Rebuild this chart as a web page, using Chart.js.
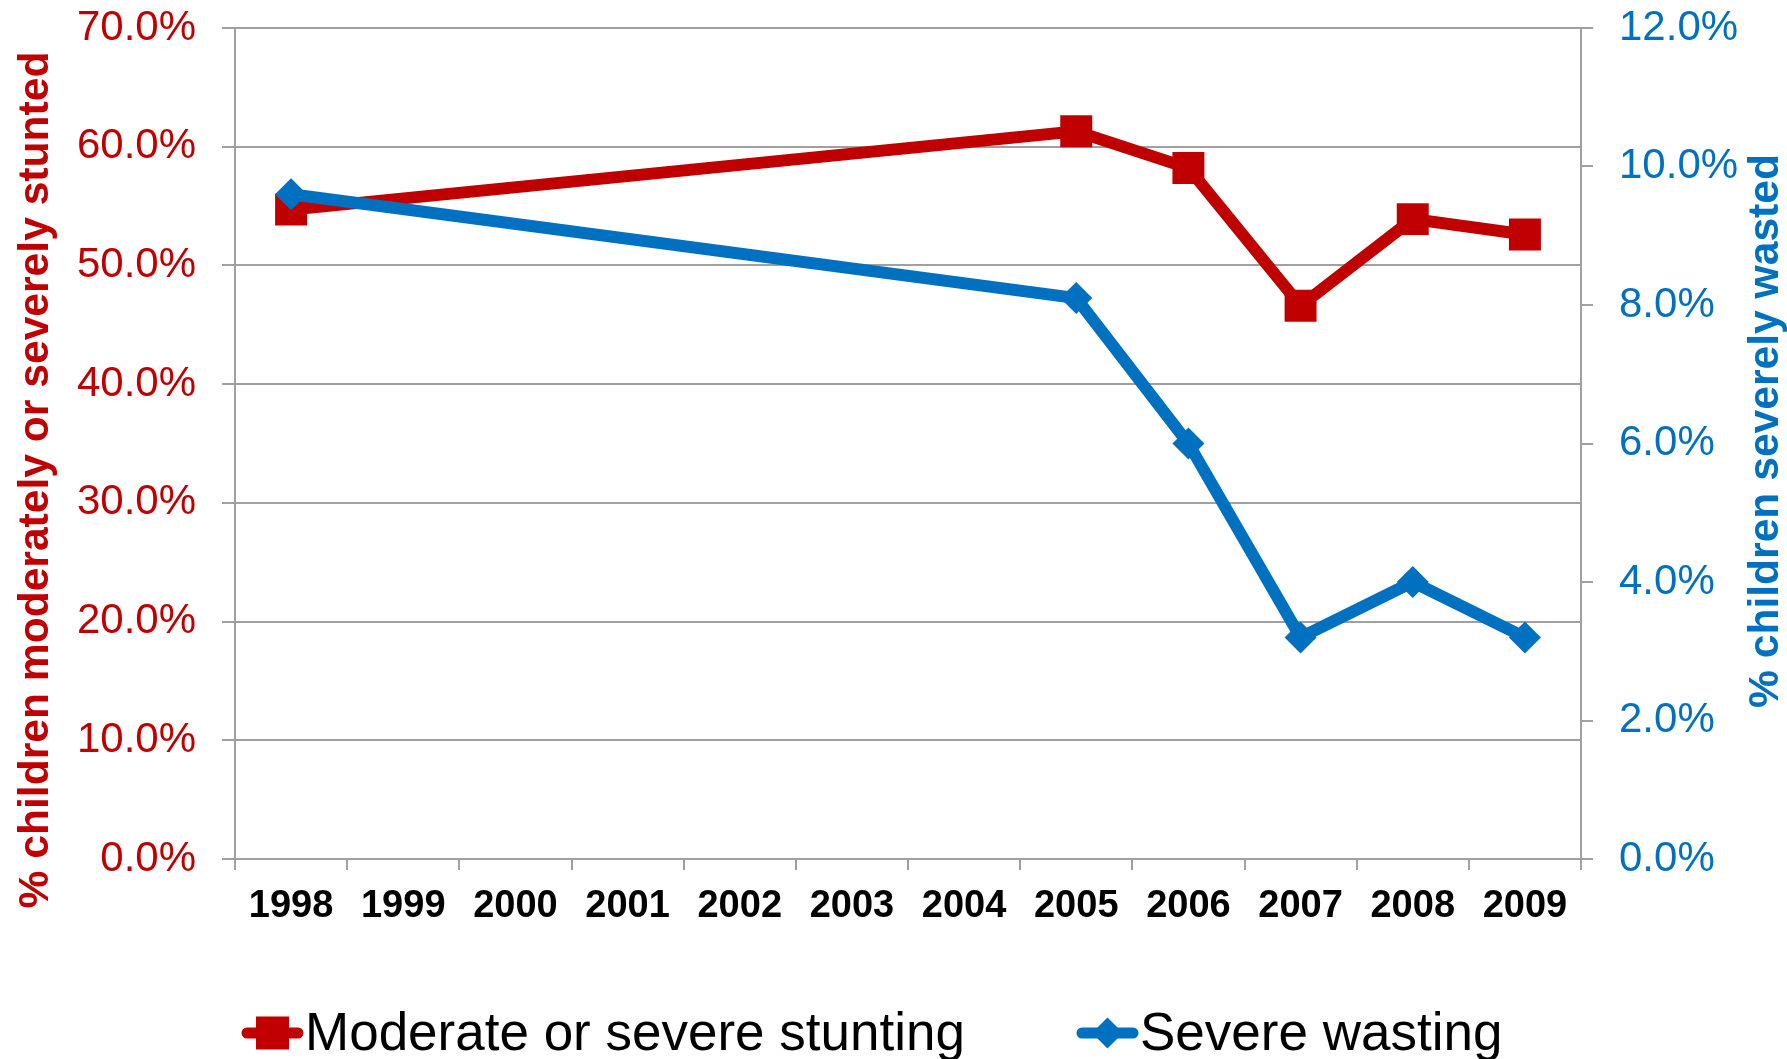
<!DOCTYPE html>
<html>
<head>
<meta charset="utf-8">
<title>Stunting and wasting</title>
<script src="https://cdn.jsdelivr.net/npm/chart.js@4.4.1/dist/chart.umd.min.js"></script>
<style>
  body { margin: 0; background: #fff; }
  canvas { display: block; }
</style>
</head>
<body>
<canvas id="myChart" width="1787" height="1059"></canvas>
<script>
// Datos
const years = ["1998", "1999", "2000", "2001", "2002", "2003", "2004", "2005", "2006", "2007", "2008", "2009"];
const stunting = [54.7, null, null, null, null, null, null, 61.3, 58.2, 46.6, 53.9, 52.6];
const wasting = [9.6, null, null, null, null, null, null, 8.1, 6.0, 3.2, 4.0, 3.2];
const stuntingLabel = "Moderate or severe stunting";
const wastingLabel = "Severe wasting";
const leftTitle = "% children moderately or severely stunted";
const rightTitle = "% children severely wasted";
const leftTicks = [0, 10, 20, 30, 40, 50, 60, 70];
const rightTicks = [0, 2, 4, 6, 8, 10, 12];

const red = "#C00000";
const blue = "#0070C0";
const grey = "#a0a0a0";
const font = '"Liberation Sans", Arial, sans-serif';

// titulos de ejes y leyenda
function drawRotated(ctx, text, x, y, color) {
  ctx.save();
  ctx.translate(x, y);
  ctx.rotate(-Math.PI / 2);
  ctx.fillStyle = color;
  ctx.fillText(text, 0, 0);
  ctx.restore();
}

function drawMarker(ctx, style, x, y, color) {
  ctx.fillStyle = color;
  ctx.beginPath();
  if (style === "rect") {
    ctx.rect(x - 16.5, y - 16.5, 33, 33);
  } else {
    ctx.moveTo(x - 15.5, y);
    ctx.lineTo(x, y - 15.5);
    ctx.lineTo(x + 15.5, y);
    ctx.lineTo(x, y + 15.5);
    ctx.closePath();
  }
  ctx.fill();
}

const extras = {
  id: "extras",
  afterDraw(chart) {
    const ctx = chart.ctx;
    ctx.save();
    ctx.font = "bold 42.6px " + font;
    ctx.textAlign = "center";
    ctx.textBaseline = "alphabetic";
    drawRotated(ctx, leftTitle, 48, 480, red);
    drawRotated(ctx, rightTitle, 1778, 431, blue);

    // leyenda
    const legendX = [242, 1077];
    const legendY = 1033;
    ctx.font = "53px " + font;
    ctx.textAlign = "left";
    chart.data.datasets.forEach((ds, i) => {
      let x = legendX[i];
      ctx.strokeStyle = ds.borderColor;
      ctx.lineWidth = 11;
      ctx.lineCap = "round";
      ctx.beginPath();
      ctx.moveTo(x + 5, legendY);
      ctx.lineTo(x + 56, legendY);
      ctx.stroke();
      drawMarker(ctx, ds.pointStyle, x + 30.5, legendY, ds.borderColor);
      ctx.fillStyle = "#000";
      ctx.fillText(ds.label, x + 63, 1050);
    });
    ctx.restore();
  }
};

// ancho fijo del eje y sin relleno extra arriba/abajo
function fixAxis(width) {
  return (scale) => {
    scale.width = width;
    scale.paddingTop = 0;
    scale.paddingBottom = 0;
  };
}

function renderGrafica() {
  const data = {
    labels: years,
    datasets: [
      {
        label: stuntingLabel,
        data: stunting,
        yAxisID: "y",
        borderColor: red,
        backgroundColor: red,
        borderWidth: 12,
        pointStyle: "rect",
        pointRadius: 22.6,
        pointBorderWidth: 0,
        spanGaps: true,
        order: 2
      },
      {
        label: wastingLabel,
        data: wasting,
        yAxisID: "y1",
        borderColor: blue,
        backgroundColor: blue,
        borderWidth: 12,
        pointStyle: "rectRot",
        pointRadius: 16,
        pointBorderWidth: 0,
        spanGaps: true,
        order: 1
      }
    ]
  };

  const config = {
    type: "line",
    data,
    options: {
      responsive: false,
      devicePixelRatio: 1,
      animation: false,
      layout: { padding: { top: 28, bottom: 100, left: 0, right: 0 } },
      plugins: {
        legend: { display: false },
        tooltip: { enabled: false }
      },
      scales: {
        x: {
          offset: true,
          afterFit: (scale) => { scale.height = 100; },
          grid: { offset: true, drawOnChartArea: false, drawTicks: true, tickLength: 11, color: grey, lineWidth: 2 },
          border: { color: grey, width: 2 },
          ticks: { color: "#000", font: { family: font, size: 38, weight: "bold" }, padding: 14, maxRotation: 0, autoSkip: false }
        },
        y: {
          position: "left",
          min: 0,
          max: 70,
          afterFit: fixAxis(235),
          afterBuildTicks: (scale) => { scale.ticks = leftTicks.map(v => ({ value: v })); },
          grid: { color: grey, lineWidth: 2, tickLength: 13 },
          border: { color: grey, width: 2 },
          ticks: {
            color: red,
            padding: 26,
            font: { family: font, size: 42 },
            callback: (v) => v.toFixed(1) + "%"
          }
        },
        y1: {
          position: "right",
          min: 0,
          max: 12,
          afterFit: fixAxis(206),
          afterBuildTicks: (scale) => { scale.ticks = rightTicks.map(v => ({ value: v })); },
          grid: { drawOnChartArea: false, color: grey, lineWidth: 2, tickLength: 12 },
          border: { color: grey, width: 2 },
          ticks: {
            color: blue,
            padding: 26,
            font: { family: font, size: 42 },
            callback: (v) => v.toFixed(1) + "%"
          }
        }
      }
    },
    plugins: [extras]
  };
  const myChart = document.getElementById("myChart");
  new Chart(myChart, config);
}
renderGrafica();
</script>
</body>
</html>
